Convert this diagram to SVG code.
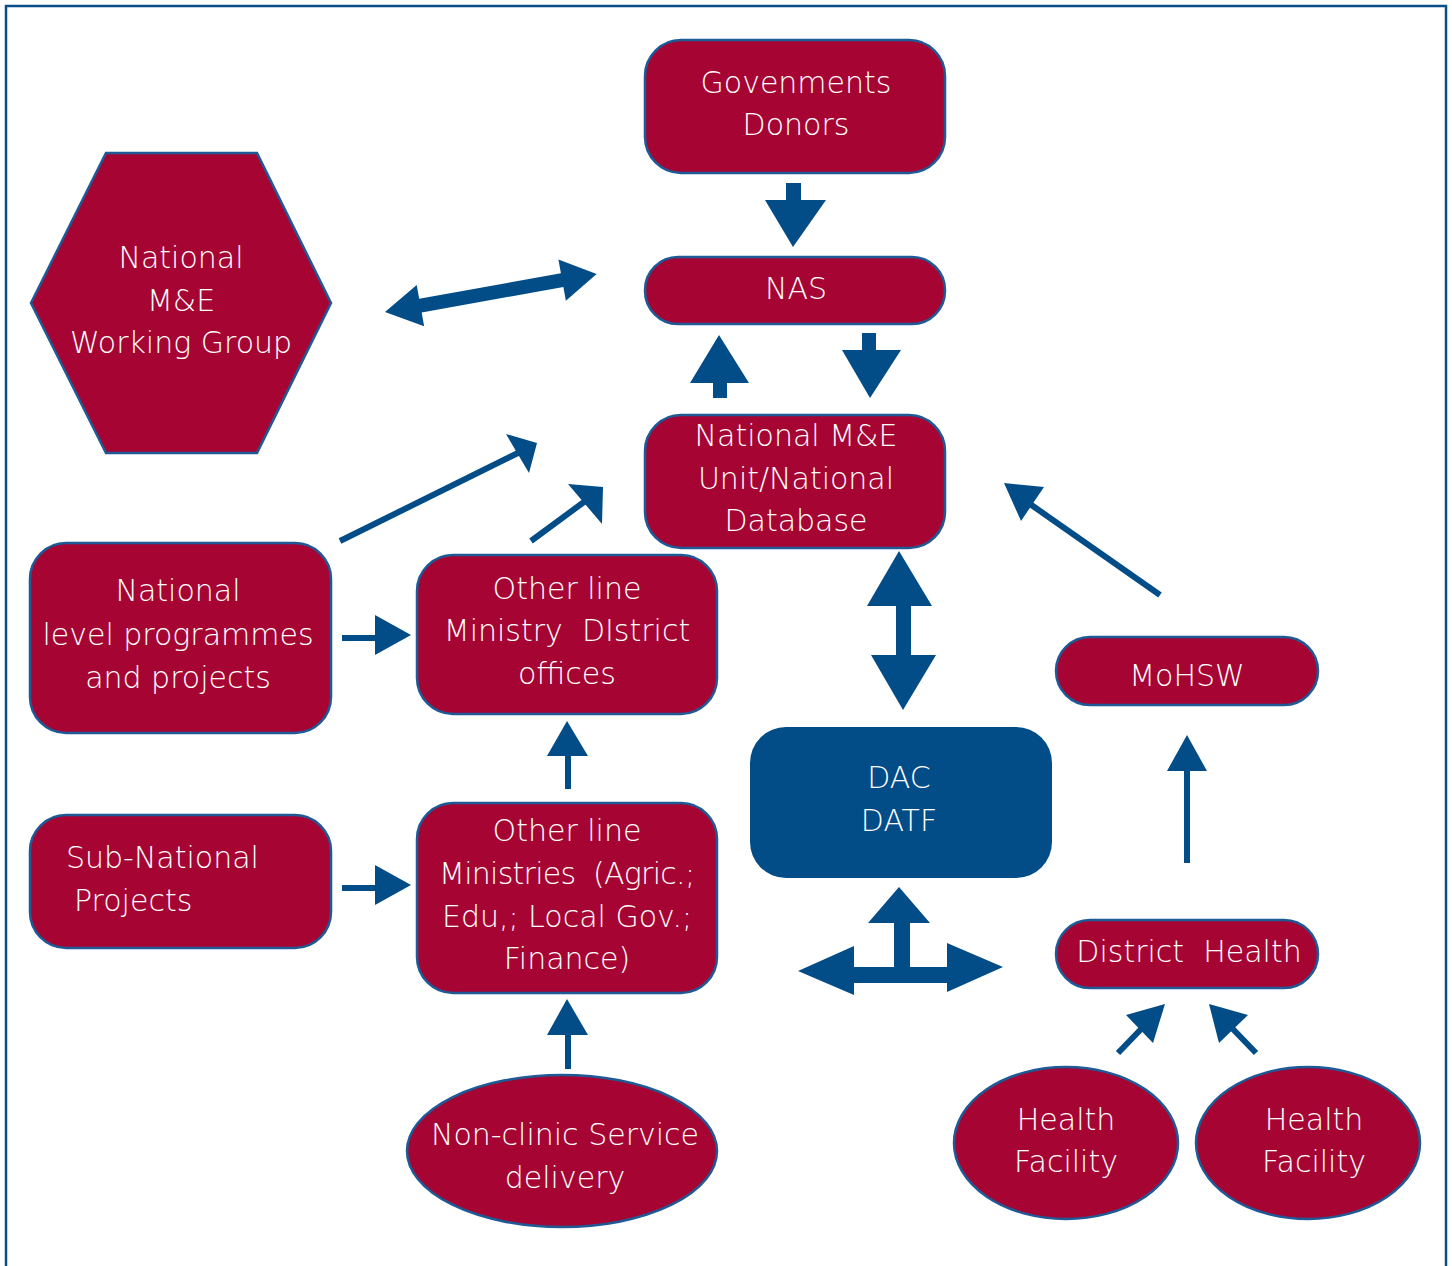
<svg xmlns="http://www.w3.org/2000/svg" width="1452" height="1266" viewBox="0 0 1452 1266">
  <style>
    .node { fill: #a60533; stroke: #1d5a96; stroke-width: 2.5; }
    .dac { fill: #024c87; }
    .lbl { fill: #ffffff; font-family: "DejaVu Sans", "Liberation Sans", sans-serif; font-weight: 300; font-size: 30px; text-anchor: middle; white-space: pre; }
    .lbl.left { text-anchor: start; }
    .blk { fill: #024c87; }
    .ln { stroke: #024c87; stroke-width: 6; fill: none; }
  </style>

  <!-- outer frame -->
  <rect x="6" y="6" width="1440" height="1280" fill="#ffffff" stroke="#0b4f8a" stroke-width="2.5"/>

  <!-- nodes -->
  <g id="donors">
    <rect class="node" x="645" y="40" width="300" height="133" rx="36"/>
    <text class="lbl" x="796" y="93">Govenments</text>
    <text class="lbl" x="796" y="135">Donors</text>
  </g>
  <g id="nas">
    <rect class="node" x="645" y="257" width="300" height="67" rx="33"/>
    <text class="lbl" x="796" y="299">NAS</text>
  </g>
  <g id="national-me-unit">
    <rect class="node" x="645" y="415" width="300" height="133" rx="36"/>
    <text class="lbl" x="796" y="446">National M&amp;E</text>
    <text class="lbl" x="796" y="489">Unit/National</text>
    <text class="lbl" x="796" y="531">Database</text>
  </g>
  <g id="me-working-group">
    <polygon class="node" points="31,303 106,153 257,153 331,303 257,453 106,453"/>
    <text class="lbl" x="181" y="268">National</text>
    <text class="lbl" x="181" y="311">M&amp;E</text>
    <text class="lbl" x="181" y="353">Working Group</text>
  </g>
  <g id="national-programmes">
    <rect class="node" x="30" y="543" width="301" height="190" rx="36"/>
    <text class="lbl" x="178" y="601">National</text>
    <text class="lbl" x="178" y="645">level programmes</text>
    <text class="lbl" x="178" y="688">and projects</text>
  </g>
  <g id="ministry-district-offices">
    <rect class="node" x="417" y="555" width="300" height="159" rx="36"/>
    <text class="lbl" x="567" y="599">Other line</text>
    <text class="lbl" x="567" y="641">Ministry  DIstrict</text>
    <text class="lbl" x="567" y="684">offices</text>
  </g>
  <g id="sub-national">
    <rect class="node" x="30" y="815" width="301" height="133" rx="36"/>
    <text class="lbl left" x="66" y="868">Sub-National</text>
    <text class="lbl left" x="74" y="911">Projects</text>
  </g>
  <g id="line-ministries">
    <rect class="node" x="417" y="803" width="300" height="190" rx="36"/>
    <text class="lbl" x="567" y="841">Other line</text>
    <text class="lbl" x="567" y="884" textLength="256" lengthAdjust="spacing">Ministries  (Agric.;</text>
    <text class="lbl" x="567" y="927">Edu,; Local Gov.;</text>
    <text class="lbl" x="567" y="969">Finance)</text>
  </g>
  <g id="non-clinic">
    <ellipse class="node" cx="562" cy="1151" rx="155" ry="76"/>
    <text class="lbl" x="565" y="1145">Non-clinic Service</text>
    <text class="lbl" x="565" y="1188">delivery</text>
  </g>
  <g id="dac-datf">
    <rect class="dac" x="750" y="727" width="302" height="151" rx="36"/>
    <text class="lbl" x="899" y="788">DAC</text>
    <text class="lbl" x="899" y="831">DATF</text>
  </g>
  <g id="mohsw">
    <rect class="node" x="1056" y="637" width="262" height="68" rx="34"/>
    <text class="lbl" x="1187" y="686">MoHSW</text>
  </g>
  <g id="district-health">
    <rect class="node" x="1056" y="920" width="262" height="68" rx="34"/>
    <text class="lbl" x="1189" y="962">District  Health</text>
  </g>
  <g id="health-facility-1">
    <ellipse class="node" cx="1066" cy="1143" rx="112" ry="76"/>
    <text class="lbl" x="1066" y="1130">Health</text>
    <text class="lbl" x="1066" y="1172">Facility</text>
  </g>
  <g id="health-facility-2">
    <ellipse class="node" cx="1308" cy="1143" rx="112" ry="76"/>
    <text class="lbl" x="1314" y="1130">Health</text>
    <text class="lbl" x="1314" y="1172">Facility</text>
  </g>

  <!-- connectors -->
  <g id="connectors">
    <!-- donors to NAS -->
    <polygon class="blk" points="786,183 801,183 801,200 826,200 793,247 765,200 786,200"/>
    <!-- working group <-> NAS -->
    <polygon class="blk" transform="translate(385,312) rotate(-10.2)" points="0,0 36,-21 36,-7 180,-7 180,-21 215,0 180,21 180,7 36,7 36,21"/>
    <!-- NAS down to national unit -->
    <polygon class="blk" points="862,333 876,333 876,350 901,350 870,398 842,350 862,350"/>
    <!-- national unit up to NAS -->
    <polygon class="blk" points="719,335 749,383 727,383 727,398 713,398 713,383 690,383"/>
    <!-- national programmes to national unit -->
    <line class="ln" x1="340" y1="541" x2="520" y2="452"/>
    <polygon class="blk" points="537,443 506,434 529,473"/>
    <!-- ministry district offices to national unit -->
    <line class="ln" x1="531" y1="541" x2="588" y2="499"/>
    <polygon class="blk" points="603,487 568,484 602,524"/>
    <!-- national programmes to ministry district offices -->
    <line class="ln" x1="342" y1="638" x2="378" y2="638"/>
    <polygon class="blk" points="375,615 411,635 375,655"/>
    <!-- sub-national to line ministries -->
    <line class="ln" x1="342" y1="888" x2="378" y2="888"/>
    <polygon class="blk" points="375,865 411,885 375,905"/>
    <!-- line ministries up to district offices -->
    <line class="ln" x1="568" y1="752" x2="568" y2="789"/>
    <polygon class="blk" points="567,721 588,756 547,756"/>
    <!-- non-clinic up to line ministries -->
    <line class="ln" x1="568" y1="1030" x2="568" y2="1069"/>
    <polygon class="blk" points="567,999 588,1035 547,1035"/>
    <!-- national unit <-> DAC -->
    <polygon class="blk" points="899,551 932,606 911,606 911,655 936,655 903,710 871,655 896,655 896,606 867,606"/>
    <!-- DAC branching arrow -->
    <polygon class="blk" points="899,887 930,923 910,923 910,967 947,967 947,943 1003,967 947,992 947,983 854,983 854,995 798,971 854,946 854,967 894,967 894,923 868,923"/>
    <!-- MoHSW to national unit -->
    <line class="ln" x1="1160" y1="595" x2="1030" y2="504"/>
    <polygon class="blk" points="1004,483 1044,487 1021,521"/>
    <!-- district health up to MoHSW -->
    <line class="ln" x1="1187" y1="768" x2="1187" y2="863"/>
    <polygon class="blk" points="1187,735 1207,771 1167,771"/>
    <!-- health facilities to district health -->
    <line class="ln" x1="1118" y1="1053" x2="1145" y2="1025"/>
    <polygon class="blk" points="1165,1004 1126,1015 1153,1043"/>
    <line class="ln" x1="1256" y1="1053" x2="1229" y2="1025"/>
    <polygon class="blk" points="1209,1004 1248,1015 1219,1043"/>
  </g>
</svg>
